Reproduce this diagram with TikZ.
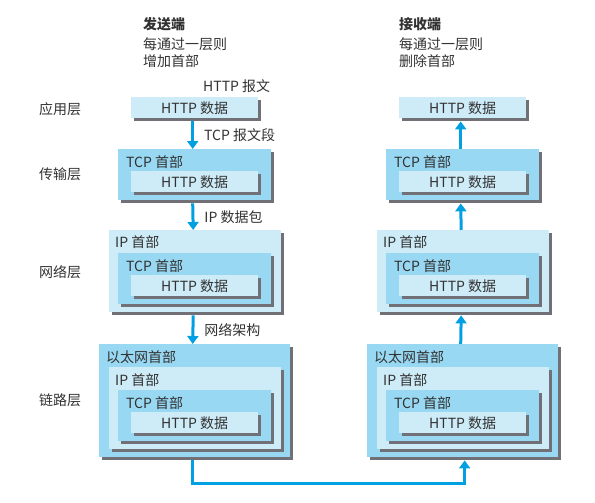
\documentclass[tikz,border=0pt]{standalone}
\usepackage{fontspec}
\setmainfont{Noto Sans CJK SC}
\usetikzlibrary{arrows.meta,shadows,positioning}
\definecolor{midblue}{RGB}{152,216,242}
\definecolor{paleblue}{RGB}{206,236,248}
\definecolor{flowblue}{RGB}{0,160,226}
\definecolor{shgray}{RGB}{112,112,118}
\definecolor{txt}{RGB}{50,50,50}
\tikzset{
  pkt/.style={anchor=north west, inner sep=0pt, text=txt,
    drop shadow={shadow xshift=3pt, shadow yshift=-3pt, fill=shgray, opacity=1}},
  dark/.style={pkt, fill=midblue},
  pale/.style={pkt, fill=paleblue},
  hbox/.style={pale, minimum width=127pt, minimum height=21pt},
  tbox/.style={dark, minimum width=153pt, minimum height=51pt},
  ibox/.style={pale, minimum width=172pt, minimum height=82pt},
  ebox/.style={dark, minimum width=191pt, minimum height=113pt},
  hd/.style={anchor=west, inner sep=0pt, text=txt},
  lbl/.style={right=10pt, inner sep=0pt, text=txt},
  flow/.style={draw=flowblue, line width=3pt, -{Triangle[width=11pt,length=8pt]}},
}

\begin{document}
\begin{tikzpicture}[x=1pt, y=-1pt, font=\fontsize{14}{17}\selectfont]
\useasboundingbox (0,0) rectangle (595,503);

\node[hd] (snd) at (143,24) {\bfseries 发送端};
\node[hd] (snd2) at (143,44) {每通过一层则};
\node[hd] (snd3) at (143,61) {增加首部};
\node[hd] (rcv) at (399,24) {\bfseries 接收端};
\node[hd] (rcv2) at (399,44) {每通过一层则};
\node[hd] (rcv3) at (399,61) {删除首部};
\node[hd] (msg) at (203,86) {HTTP 报文};

\node[hd] (app) at (39,109) {应用层};
\node[hd] (tra) at (39,174) {传输层};
\node[hd] (net) at (39,272) {网络层};
\node[hd] (lnk) at (39,400) {链路层};

\foreach \o/\c in {0/s,268/r} {
  \node[hbox] (\c1) at (131+\o,97) {HTTP 数据};

  \node[tbox] (\c2) at (118+\o,149) {};
  \node[hd] at (126+\o,162) {TCP 首部};
  \node[hbox] at (131+\o,171) {HTTP 数据};

  \node[ibox] (\c3) at (109+\o,230) {};
  \node[hd] at (115+\o,242) {IP 首部};
  \node[tbox] at (118+\o,253) {};
  \node[hd] at (126+\o,266) {TCP 首部};
  \node[hbox] at (131+\o,275) {HTTP 数据};

  \node[ebox] (\c4) at (99+\o,344) {};
  \node[hd] at (106+\o,357) {以太网首部};
  \node[ibox] at (109+\o,367) {};
  \node[hd] at (115+\o,380) {IP 首部};
  \node[tbox] at (118+\o,390) {};
  \node[hd] at (126+\o,403) {TCP 首部};
  \node[hbox] at (131+\o,412) {HTTP 数据};
}

\foreach \a/\b/\t in {1/2/TCP 报文段,2/3/IP 数据包,3/4/网络架构} {
  \draw[flow] ([xshift=-2pt,yshift=-3pt]s\a.south) -- node[lbl] {\t} ([xshift=-2pt]s\b.north);
  \draw[flow] ([xshift=-2pt]r\b.north) -- ([xshift=-2pt,yshift=-3pt]r\a.south);
}
\draw[flow] ([xshift=-2pt,yshift=-3pt]s4.south) -- ++(0,23) -| ([xshift=2pt,yshift=-3pt]r4.south);
\end{tikzpicture}
\end{document}
